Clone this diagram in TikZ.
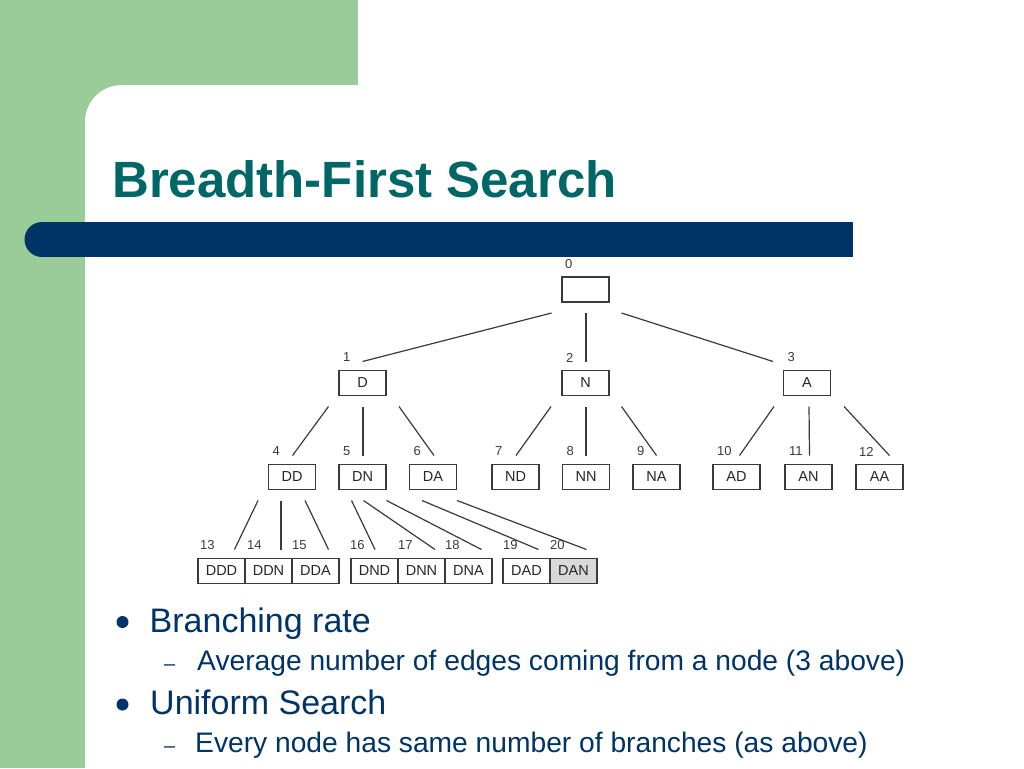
\documentclass[tikz,border=0pt]{standalone}
\usepackage{fontspec}
\setmainfont{Liberation Sans}
\usetikzlibrary{calc,positioning}
\definecolor{leaf}{HTML}{99CC99}
\definecolor{navy}{HTML}{003366}
\definecolor{titleteal}{HTML}{006666}
\definecolor{ink}{HTML}{3A3A3A}
\definecolor{visited}{HTML}{D9D9D9}
\tikzset{
	state/.style={draw=ink, line width=1.2pt, minimum width=47pt, minimum height=25pt, inner sep=0pt, outer sep=0pt, font=\fontsize{14.5}{14.5}\selectfont, text=black!85},
	num/.style={anchor=west, inner sep=0pt, font=\fontsize{13}{13}\selectfont, text=ink},
	edge/.style={draw=ink, line width=1.2pt},
	say/.style={anchor=base west, inner sep=0pt, text=navy},
}
\def\branch(#1:#2)(#3:#4){\draw[edge] ($(#1.south)+(#2,11)$) -- ($(#3.north)+(#4,-9)$);}
\def\numtag(#1:#2)#3{\node[num] at ($(#1.north west)+(#2,-13)$) {#3};}

\begin{document}
\begin{tikzpicture}[x=1pt,y=-1pt]
		\useasboundingbox (0,0) rectangle (1024,768);
		%%%%% BACKGROUND %%%%%
		\fill[leaf] (0,0) rectangle (358,85);
		\fill[leaf] (0,0) rectangle (85,768);
		\fill[leaf] (85,85) rectangle (122,122);
		\fill[white] (122,122) circle (37);
		\fill[navy] (42,222) rectangle (853,257);
		\fill[navy] (42,239.5) circle (17.5);
		
		\node[anchor=base west, inner sep=0pt, text=titleteal, font=\bfseries\fontsize{51}{51}\selectfont] (title) at (112,197) {Breadth-First Search};
		
		%%%%% TREE %%%%%
		\node[state] (root) at (585.5,289.5) {};
		
		\node[state] (d) at (362.5,383) {D};
		\node[state] (n) at (585.5,383) {N};
		\node[state] (a) at (807,383) {A};
		
		\node[state] (dd) at (292,477) {DD};
		\node[state] (dn) at (362.5,477) {DN};
		\node[state] (da) at (433,477) {DA};
		\node[state] (nd) at (515.5,477) {ND};
		\node[state] (nn) at (586,477) {NN};
		\node[state] (na) at (656.5,477) {NA};
		\node[state] (ad) at (736.5,477) {AD};
		\node[state] (an) at (808.5,477) {AN};
		\node[state] (aa) at (879.5,477) {AA};
		
		\node[state] (ddd) at (221.5,571) {DDD};
		\node[state, right=0pt of ddd] (ddn) {DDN};
		\node[state, right=0pt of ddn] (dda) {DDA};
		\node[state] (dnd) at (374.5,571) {DND};
		\node[state, right=0pt of dnd] (dnn) {DNN};
		\node[state, right=0pt of dnn] (dna) {DNA};
		\node[state] (dad) at (526.5,571) {DAD};
		\node[state, right=0pt of dad, fill=visited] (dan) {DAN};
		
		% order numbers
		\numtag(root:3){0}
		\numtag(d:4){1} \numtag(n:4){2} \numtag(a:4){3}
		\numtag(dd:4){4} \numtag(dn:4){5} \numtag(da:4){6}
		\numtag(nd:3){7} \numtag(nn:4){8} \numtag(na:4){9}
		\numtag(ad:4){10} \numtag(an:4){11} \numtag(aa:3){12}
		\numtag(ddd:2){13} \numtag(ddn:2){14} \numtag(dda:0){15}
		\numtag(dnd:-1){16} \numtag(dnn:0){17} \numtag(dna:0){18}
		\numtag(dad:0){19} \numtag(dan:0){20}
		
		% branches
		\branch(root:-34)(d:0)
		\branch(root:0.5)(n:0.5)
		\branch(root:36)(a:-34)
		\branch(d:-34)(dd:0.5)
		\branch(d:0.5)(dn:0.5)
		\branch(d:36.5)(da:1)
		\branch(n:-34.5)(nd:0.5)
		\branch(n:0.5)(nn:0)
		\branch(n:36)(na:0)
		\branch(a:-33)(ad:3)
		\branch(a:2)(an:1)
		\branch(a:37)(aa:10)
		\branch(dd:-34)(ddd:13)
		\branch(dd:-11)(ddn:12.5)
		\branch(dd:13)(dda:13)
		\branch(dn:-11)(dnd:0.5)
		\branch(dn:1)(dnn:13.5)
		\branch(dn:24)(dna:13)
		\branch(da:-11)(dad:12)
		\branch(da:24)(dan:13)
		
		%%%%% BULLETS %%%%%
		\fill[navy] (122.5,622) circle (6);
		\node[say, font=\fontsize{34}{40}\selectfont] (rate) at (149.5,632) {Branching rate};
		\node[say, font=\fontsize{20}{20}\selectfont] (dash1) at (164,670.5) {–};
		\node[say, font=\fontsize{28.2}{32}\selectfont] (avg) at (197,670.5) {Average number of edges coming from a node (3 above)};
		\fill[navy] (122.5,704.5) circle (6);
		\node[say, font=\fontsize{34}{40}\selectfont] (unif) at (150,714) {Uniform Search};
		\node[say, font=\fontsize{20}{20}\selectfont] (dash2) at (164,752.5) {–};
		\node[say, font=\fontsize{28.2}{32}\selectfont] (every) at (195,752.5) {Every node has same number of branches (as above)};
\end{tikzpicture}
\end{document}
